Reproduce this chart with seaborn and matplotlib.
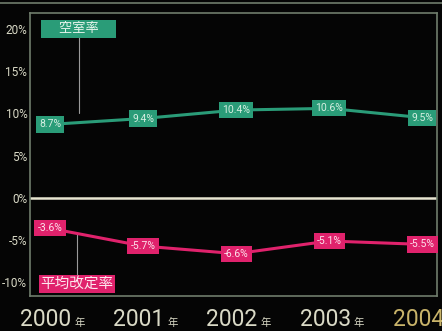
import matplotlib
matplotlib.use("Agg")
import matplotlib.pyplot as plt
import seaborn as sns
import pandas as pd

years = [2000, 2001, 2002, 2003, 2004]
vacancy = [8.7, 9.4, 10.4, 10.6, 9.5]
revision = [-3.6, -5.7, -6.6, -5.1, -5.5]
yticks = [20, 15, 10, 5, 0, -5, -10]

sns.set_theme(style="dark")
plt.rcParams["font.family"] = ["Noto Sans CJK JP", "DejaVu Sans"]

BG = "#050505"
GREEN = "#2a9c78"
PINK = "#e0226c"
FRAME = "#6f7d6c"
TXT = "#d9d9c6"
GOLD = "#c9b46a"
NUM = ["Roboto", "DejaVu Sans"]

df = pd.DataFrame({
    "idx": list(range(len(years))) * 2,
    "value": vacancy + revision,
    "series": ["空室率"] * len(years) + ["平均改定率"] * len(years),
})

fig = plt.figure(figsize=(4.42, 3.31), dpi=100, facecolor=BG)
ax = fig.add_axes([0.068, 0.106, 0.921, 0.855])
ax.set_facecolor(BG)

sns.lineplot(data=df, x="idx", y="value", hue="series",
             palette={"空室率": GREEN, "平均改定率": PINK},
             linewidth=2.2, legend=False, ax=ax, zorder=3)

ax.axhline(0, color="#e8e6d2", linewidth=1.8, zorder=2)

ax.set_xlim(-0.215, 4.16)
ax.set_ylim(-11.6, 21.9)
ax.set_xlabel("")
ax.set_ylabel("")
ax.grid(False)

for s in ax.spines.values():
    s.set_color(FRAME)
    s.set_linewidth(1.2)
    s.set_visible(True)

ax.set_yticks(yticks)
ax.set_yticklabels([f"{v}%" for v in yticks], color=TXT, fontsize=8.5,
                   family=NUM)
ax.tick_params(axis="y", length=0, pad=2)

# year labels: large digits followed by a small 年
ax.set_xticks(range(len(years)))
ax.set_xticklabels([])
ax.tick_params(axis="x", length=0)
for i, y in enumerate(years):
    c = GOLD if i == len(years) - 1 else TXT
    ax.annotate(str(y), xy=(i, 0), xycoords=("data", "axes fraction"),
                xytext=(15.5, -22), textcoords="offset points",
                fontsize=16.5, color=c, ha="right", va="baseline",
                family=NUM, annotation_clip=False)
    ax.annotate("年", xy=(i, 0), xycoords=("data", "axes fraction"),
                xytext=(17.5, -22), textcoords="offset points",
                fontsize=7.5, color=c, ha="left", va="baseline",
                annotation_clip=False)

# value boxes on each point
for i, v in enumerate(vacancy):
    ax.text(i, v, f"{v}%", ha="center", va="center", fontsize=7.5,
            color="#d6efe2", family=NUM, zorder=5,
            bbox=dict(boxstyle="square,pad=0.3", fc=GREEN, ec="none"))
for i, v in enumerate(revision):
    ax.text(i, v, f"{v}%", ha="center", va="center", fontsize=7.5,
            color="#fde3ec", family=NUM, zorder=5,
            bbox=dict(boxstyle="square,pad=0.3", fc=PINK, ec="none"))

# series name tags with leader lines
ax.plot([0.31, 0.31], [19.4, 10.0], color="#9a9a9a", linewidth=0.8, zorder=1)
ax.text(0.31, 20.0, "     空室率     ", ha="center", va="center", fontsize=9.5,
        color="#e6f4ec", zorder=5,
        bbox=dict(boxstyle="square,pad=0.2", fc=GREEN, ec="none"))
ax.plot([0.29, 0.29], [-4.3, -9.6], color="#9a9a9a", linewidth=0.8, zorder=1)
ax.text(0.29, -10.2, "平均改定率", ha="center", va="center", fontsize=10.5,
        color="#fde8ef", zorder=5,
        bbox=dict(boxstyle="square,pad=0.12", fc=PINK, ec="none"))

# outer frame line along the top
fig.add_artist(plt.Line2D([0, 1], [0.992, 0.992], color=FRAME, linewidth=1.2,
                          transform=fig.transFigure))

fig.savefig("out.png", dpi=100, facecolor=BG)
